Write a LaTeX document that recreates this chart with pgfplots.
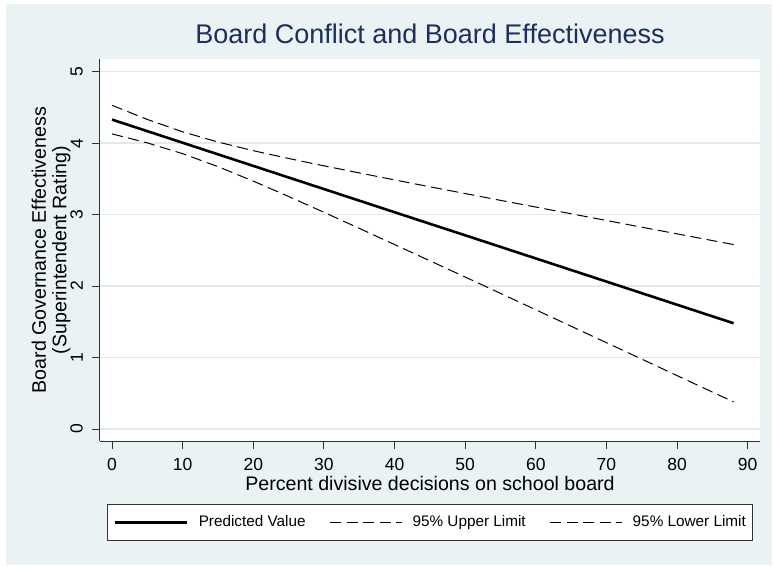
\documentclass[border=0pt]{standalone}
\usepackage{pgfplots}
\pgfplotsset{compat=1.18}
\usepackage{pgfplotstable}
\usepackage{fontspec}
\setmainfont{Liberation Sans}
\definecolor{stbg}{RGB}{234,242,243}
\definecolor{stgrid}{RGB}{224,234,237}
\definecolor{sttitle}{RGB}{28,48,92}

\pgfplotstableread{
x pred upper lower
0 4.330 4.530 4.130
5 4.168 4.332 4.004
10 4.006 4.159 3.853
15 3.844 4.016 3.672
20 3.682 3.895 3.469
25 3.520 3.786 3.254
30 3.358 3.683 3.033
35 3.196 3.584 2.808
40 3.034 3.486 2.582
45 2.872 3.390 2.354
50 2.711 3.295 2.127
55 2.549 3.200 1.898
60 2.387 3.106 1.668
65 2.225 3.012 1.438
70 2.063 2.918 1.208
75 1.901 2.824 0.978
80 1.739 2.731 0.747
85 1.577 2.637 0.517
88 1.480 2.581 0.379
}\datatable

\begin{document}
\begin{tikzpicture}[x=1pt,y=1pt]
\useasboundingbox (0,0) rectangle (773,566);
\fill[white] (0,0) rectangle (773,566);
\fill[stbg] (6,1) rectangle (772,562);
\begin{axis}[
  at={(100pt,125pt)}, anchor=south west,
  scale only axis, width=660pt, height=382pt,
  xmin=-1.7, xmax=91.74, ymin=-0.168, ymax=5.178,
  axis background/.style={fill=white},
  axis x line*=bottom, axis y line*=left,
  axis line style={black!80, line width=1pt},
  tick style={black!80, line width=1pt},
  major tick length=8pt, tick align=outside,
  xtick={0,10,...,90}, ytick={0,1,2,3,4,5},
  minor tick num=0,
  ymajorgrids, grid style={stgrid, line width=1.5pt},
  /pgf/number format/assume math mode=true,
  tick label style={font=\fontsize{17.5}{19}\selectfont, inner sep=0pt},
  xticklabel style={anchor=north},
  yticklabel style={rotate=90, anchor=south},
  xticklabel shift=9pt, yticklabel shift=9pt,
  title={Board Conflict and Board Effectiveness},
  title style={at={(axis description cs:0.5,1.0236)}, anchor=base, inner sep=0pt,
    font=\fontsize{27}{30}\selectfont, color=sttitle},
  xlabel={Percent divisive decisions on school board},
  xlabel style={at={(axis description cs:0.5,-0.1283)}, anchor=base, inner sep=0pt,
    font=\fontsize{19.6}{22}\selectfont},
  ylabel={Board Governance Effectiveness\\(Superintendent Rating)},
  ylabel style={at={(axis description cs:-0.0742,0.5)}, anchor=center, inner sep=0pt,
    align=center, font=\fontsize{19.6}{20.5}\selectfont},
  legend columns=3,
  legend style={at={(axis description cs:0.5,-0.165)}, anchor=north,
    draw=black!80, line width=0.8pt, fill=white,
    font=\fontsize{15.3}{17}\selectfont,
    inner xsep=7pt, inner ysep=11pt,
    nodes={inner sep=0pt, text height=11pt, text depth=3pt},
    /tikz/every even column/.append style={column sep=24pt},
    /tikz/every odd column/.append style={column sep=10pt}},
  legend image code/.code={\draw[#1] (0pt,0pt) -- (72pt,0pt);},
]
\addplot[black, line width=2.6pt, line join=round] table[x=x, y=pred] {\datatable};
\addlegendentry{Predicted Value}
\addplot[black, line width=1pt, dash pattern=on 11pt off 5.5pt] table[x=x, y=upper] {\datatable};
\addlegendentry{95\% Upper Limit}
\addplot[black, line width=1pt, dash pattern=on 11pt off 5.5pt] table[x=x, y=lower] {\datatable};
\addlegendentry{95\% Lower Limit}
\end{axis}
\end{tikzpicture}
\end{document}
